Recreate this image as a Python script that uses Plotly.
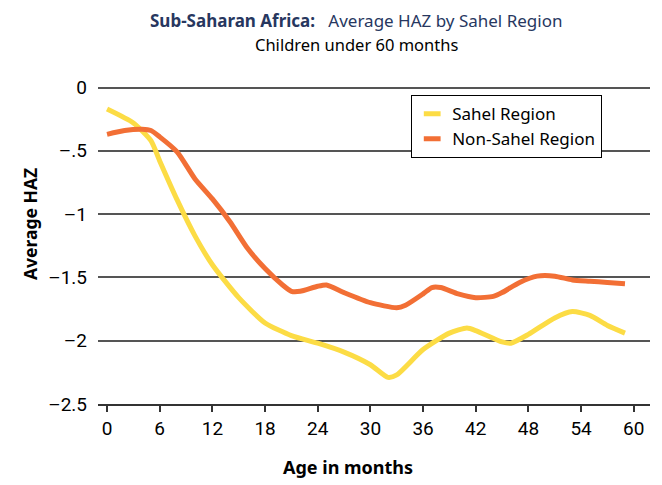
import plotly.graph_objects as go

months_sahel = [0, 3, 5, 6, 8, 10, 12, 15, 18, 21, 24, 27, 30, 32, 33, 36, 39, 41, 42, 45, 46, 48, 51, 53, 55, 57, 59]
haz_sahel = [-0.17, -0.28, -0.42, -0.58, -0.89, -1.17, -1.40, -1.66, -1.86, -1.96, -2.02, -2.09, -2.19, -2.29, -2.27,
             -2.07, -1.94, -1.90, -1.92, -2.01, -2.02, -1.95, -1.82, -1.77, -1.80, -1.88, -1.94]

months_non = [0, 2, 4, 5, 6, 8, 10, 12, 14, 16, 18, 20, 21, 22, 24, 25, 27, 30, 33, 34, 36, 37, 38, 40, 42, 44, 45,
              47, 49, 51, 53, 55, 57, 59]
haz_non = [-0.37, -0.34, -0.33, -0.34, -0.39, -0.51, -0.72, -0.88, -1.06, -1.27, -1.43, -1.56, -1.61, -1.61, -1.57,
           -1.56, -1.62, -1.70, -1.74, -1.72, -1.63, -1.58, -1.58, -1.63, -1.66, -1.65, -1.62, -1.54, -1.49, -1.49,
           -1.52, -1.53, -1.54, -1.55]

x_ticks = [0, 6, 12, 18, 24, 30, 36, 42, 48, 54, 60]
y_ticks = [0, -0.5, -1, -1.5, -2, -2.5]
y_ticklabels = ["0", "\u2013.5", "\u20131", "\u20131.5", "\u20132", "\u20132.5"]

YELLOW = "#FCDC45"
ORANGE = "#F26F35"
FONT = "Noto Sans"
NARROW = "Liberation Sans Narrow, Roboto, sans-serif"

# page has an 8px body margin; work in window pixels and offset
OFF = 8
W, H = 654, 477
L, T = 98 - OFF, 87 - OFF
PW, PH = 552, 317
R = W - L - PW
B = H - T - PH


def px(xw):
    return (xw - OFF - L) / PW


def py(yw):
    return 1 - (yw - OFF - T) / PH


fig = go.Figure()
fig.add_trace(go.Scatter(x=months_sahel, y=haz_sahel, mode="lines",
                         line=dict(color=YELLOW, width=5, shape="spline", smoothing=0.6),
                         showlegend=False, hoverinfo="skip"))
fig.add_trace(go.Scatter(x=months_non, y=haz_non, mode="lines",
                         line=dict(color=ORANGE, width=5, shape="spline", smoothing=0.6),
                         showlegend=False, hoverinfo="skip"))
fig.add_trace(go.Scatter(x=[None], y=[None], mode="markers", name="Sahel Region",
                         marker=dict(symbol="line-ew", size=12, line=dict(color=YELLOW, width=6))))
fig.add_trace(go.Scatter(x=[None], y=[None], mode="markers", name="Non-Sahel Region",
                         marker=dict(symbol="line-ew", size=12, line=dict(color=ORANGE, width=6))))

fig.update_layout(
    width=W, height=H,
    margin=dict(l=L, r=R, t=T, b=B),
    paper_bgcolor="white", plot_bgcolor="white",
    font=dict(family=FONT, color="black"),
    showlegend=True,
    legend=dict(x=px(411), y=py(95), xanchor="left", yanchor="top", bordercolor="black", borderwidth=1.2,
                bgcolor="white", font=dict(family=FONT, size=17, color="black"), tracegroupgap=0,
                itemwidth=30),
    annotations=[
        dict(text="<b>Sub-Saharan Africa:</b>   Average HAZ by Sahel Region", x=px(356), y=py(20),
             xref="paper", yref="paper", xanchor="center", yanchor="middle",
             showarrow=False, font=dict(family=FONT, size=17, color="#27375F")),
        dict(text="Children under 60 months", x=px(356), y=py(45), xref="paper", yref="paper",
             xanchor="center", yanchor="middle", showarrow=False,
             font=dict(family=FONT, size=16.5, color="black")),
        dict(text="<b>Age in months</b>", x=px(348), y=py(467), xref="paper", yref="paper",
             xanchor="center", yanchor="middle", showarrow=False,
             font=dict(family=FONT, size=18, color="black")),
        dict(text="<b>Average HAZ</b>", x=px(30), y=py(224), xref="paper", yref="paper", textangle=-90,
             xanchor="center", yanchor="middle", showarrow=False,
             font=dict(family=FONT, size=17.5, color="black")),
    ],
)

fig.update_xaxes(range=[-1.03, 61.85], tickvals=x_ticks, ticks="outside", ticklen=6, tickwidth=1.5, tickcolor="#333",
                 showline=True, linecolor="#333", linewidth=1.5, showgrid=False, zeroline=False,
                 tickfont=dict(family=NARROW, size=19, color="black"))
fig.update_yaxes(range=[-2.5, 0.004], tickvals=y_ticks, ticktext=y_ticklabels, showgrid=True, gridcolor="#555",
                 gridwidth=1.5, zeroline=True, zerolinecolor="#555", zerolinewidth=1.5, showline=False, ticks="",
                 ticklabelstandoff=10, tickfont=dict(family=NARROW, size=19, color="black"))

fig.write_html("out.html")
